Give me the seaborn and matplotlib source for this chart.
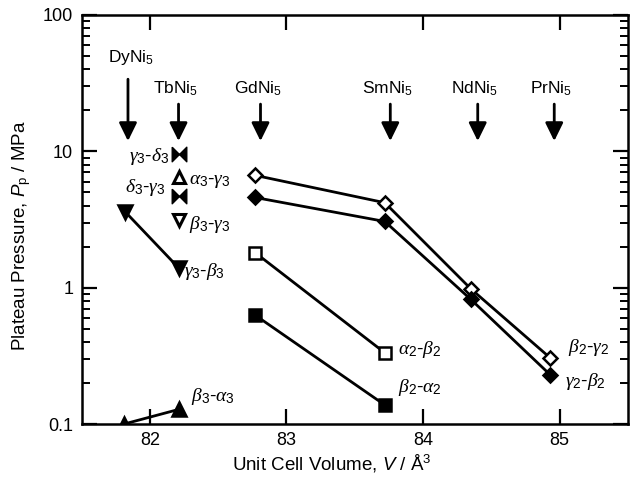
#!/usr/bin/env python3
"""
Plateau pressure vs unit cell volume for RNi5 compounds
"""

import numpy as np
import pandas as pd
import matplotlib
matplotlib.use('Agg')
import matplotlib.pyplot as plt
import matplotlib.ticker as mticker
from matplotlib.path import Path as MPath
import seaborn as sns

# Data
compounds = ['DyNi$_5$', 'TbNi$_5$', 'GdNi$_5$', 'SmNi$_5$', 'NdNi$_5$', 'PrNi$_5$']
compound_volume = [81.84, 82.21, 82.81, 83.76, 84.40, 84.96]

# phase 3 (Dy / Tb)
dg3_volume = [81.82, 82.21]
dg3_pressure = [3.6, 1.40]            # delta3-gamma3 -> gamma3-beta3, filled down triangles
ba3_volume = [81.81, 82.21]
ba3_pressure = [0.100, 0.128]         # beta3-alpha3, filled up triangles
tb_volume = 82.21
tb_bowtie_pressure = [9.5, 4.67]      # gamma3-delta3, delta3-gamma3
tb_ag3_pressure = [6.5]               # alpha3-gamma3, open up triangle
tb_bg3_pressure = [3.16]              # beta3-gamma3, open down triangle

# phase 2 (Gd / Sm / Nd / Pr)
sq_volume = [82.77, 83.72]
ab2_pressure = [1.81, 0.333]          # alpha2-beta2, open squares
ba2_pressure = [0.63, 0.138]          # beta2-alpha2, filled squares
dia_volume = [82.77, 83.72, 84.35, 84.93]
bg2_pressure = [6.67, 4.2, 0.98, 0.306]   # beta2-gamma2, open diamonds
gb2_pressure = [4.59, 3.06, 0.82, 0.23]   # gamma2-beta2, filled diamonds

# Style
sns.set_style('ticks')
plt.rcParams['font.family'] = ['Liberation Sans', 'DejaVu Sans']
plt.rcParams['mathtext.fontset'] = 'custom'
plt.rcParams['mathtext.rm'] = 'Liberation Sans'
plt.rcParams['mathtext.it'] = 'Liberation Serif:italic'
plt.rcParams['mathtext.sf'] = 'Liberation Sans:italic'
plt.rcParams['font.size'] = 13
for key in ['text.color', 'axes.labelcolor', 'axes.edgecolor', 'xtick.color', 'ytick.color']:
    plt.rcParams[key] = 'black'

bowtie = MPath([(-1, 1), (0, 0), (1, 1), (1, -1), (0, 0), (-1, -1), (-1, 1)])

fig = plt.figure(figsize=(6.32, 4.83), dpi=100)
ax = fig.add_axes([0.129, 0.122, 0.8647, 0.847])

lw = 2.0
common = dict(color='black', linewidth=lw, markeredgecolor='black', markeredgewidth=1.8)


def series(x, y, marker, ms, filled=True):
    df = pd.DataFrame({'V': x, 'P': y})
    sns.lineplot(data=df, x='V', y='P', ax=ax, marker=marker, markersize=ms,
                 markerfacecolor='black' if filled else 'white', **common)


series(dg3_volume, dg3_pressure, 'v', 10)
series(ba3_volume, ba3_pressure, '^', 10)
series(sq_volume, ab2_pressure, 's', 8, filled=False)
series(sq_volume, ba2_pressure, 's', 8)
series(dia_volume, bg2_pressure, 'D', 7.5, filled=False)
series(dia_volume, gb2_pressure, 'D', 7.5)

# TbNi5 single points
sns.scatterplot(x=[tb_volume] * 2, y=tb_bowtie_pressure, ax=ax, marker=bowtie, s=110,
                color='black', edgecolor='black', linewidth=1)
ax.plot([tb_volume], tb_ag3_pressure, linestyle='none', marker='^', markersize=9,
        markerfacecolor='white', markeredgecolor='black', markeredgewidth=2.2)
ax.plot([tb_volume], tb_bg3_pressure, linestyle='none', marker='v', markersize=9,
        markerfacecolor='white', markeredgecolor='black', markeredgewidth=2.2)

# Compound arrows and names
for name, v in zip(compounds, compound_volume):
    is_dy = name.startswith('Dy')
    tail = 33.8 if is_dy else 22.2
    ax.annotate('', xy=(v, 11.9), xytext=(v, tail),
                arrowprops=dict(arrowstyle='-|>,head_length=0.55,head_width=0.27',
                                mutation_scale=20, color='black', lw=lw,
                                shrinkA=0, shrinkB=0))
    ty = 49.1 if is_dy else 28.6
    ax.text(v + (0.02 if is_dy else -0.02), ty, name, ha='center', va='center',
            fontsize=12.5)

# Transition labels
labels = [
    (82.14, 9.18, r'$\gamma_3$-$\delta_3$', 'right'),
    (82.29, 6.01, r'$\alpha_3$-$\gamma_3$', 'left'),
    (82.11, 5.43, r'$\delta_3$-$\gamma_3$', 'right'),
    (82.29, 2.90, r'$\beta_3$-$\gamma_3$', 'left'),
    (82.25, 1.31, r'$\gamma_3$-$\beta_3$', 'left'),
    (82.30, 0.158, r'$\beta_3$-$\alpha_3$', 'left'),
    (83.82, 0.35, r'$\alpha_2$-$\beta_2$', 'left'),
    (83.82, 0.184, r'$\beta_2$-$\alpha_2$', 'left'),
    (85.06, 0.362, r'$\beta_2$-$\gamma_2$', 'left'),
    (85.04, 0.204, r'$\gamma_2$-$\beta_2$', 'left'),
]
for x, y, s, ha in labels:
    ax.text(x, y, s, ha=ha, va='center', fontsize=14)

# Axes
ax.set_yscale('log')
ax.set_xlim(81.5, 85.5)
ax.set_ylim(0.1, 100)
ax.set_xticks([82, 83, 84, 85])
ax.xaxis.set_minor_locator(mticker.NullLocator())
ax.yaxis.set_major_locator(mticker.FixedLocator([0.1, 1, 10, 100]))
ax.yaxis.set_major_formatter(mticker.FixedFormatter(['0.1', '1', '10', '100']))
ax.yaxis.set_minor_locator(mticker.LogLocator(base=10, subs=np.arange(2, 10)))
ax.yaxis.set_minor_formatter(mticker.NullFormatter())

ax.tick_params(which='major', direction='in', length=11, width=1.6, top=True, right=True,
               labelsize=13, pad=6)
ax.tick_params(which='minor', direction='in', length=6, width=1.4, right=True)
for sp in ax.spines.values():
    sp.set_linewidth(1.8)
    sp.set_visible(True)

ax.set_xlabel(r'Unit Cell Volume, $\mathsf{V}$ / Å$^3$', fontsize=13.5)
ax.set_ylabel(r'Plateau Pressure, $\mathsf{P}_\mathrm{p}$ / MPa', fontsize=13.5)
ax.xaxis.set_label_coords(0.458, -0.068)
ax.yaxis.set_label_coords(-0.088, 0.46)

fig.savefig('out.png', dpi=100)
